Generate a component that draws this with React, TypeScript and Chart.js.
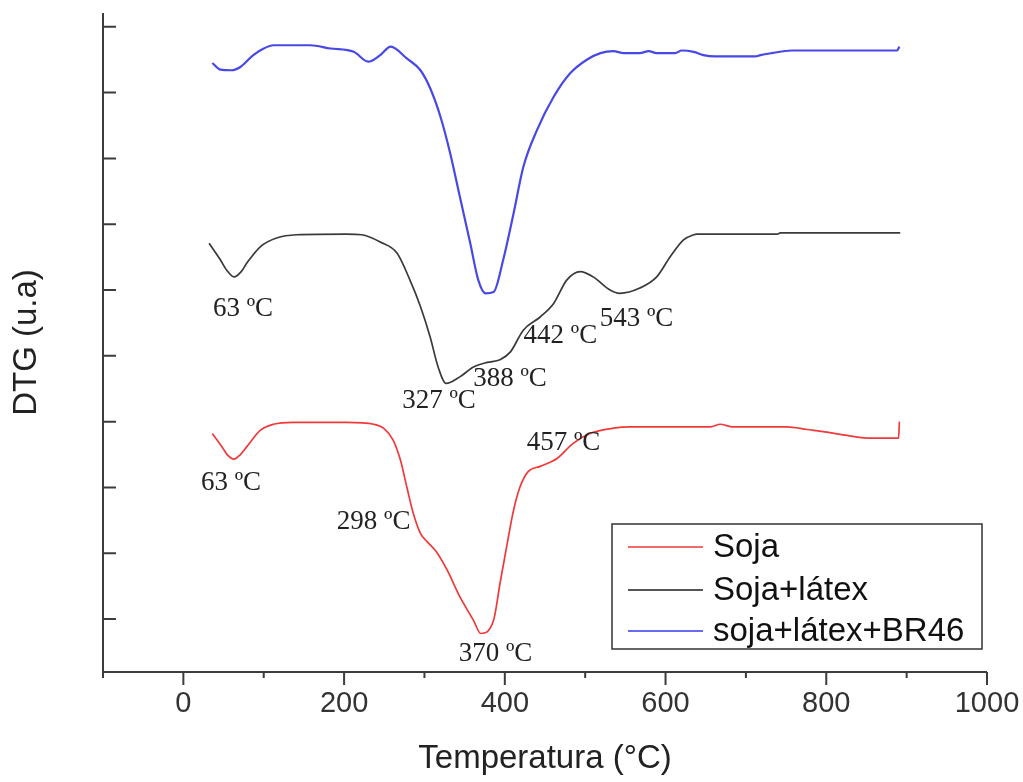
import React, { useEffect, useRef } from 'react';
import { Chart, registerables } from 'chart.js';

Chart.register(...registerables);

// Soja
const sojaTemp = [36, 49, 55, 63, 71, 79, 96, 112, 137, 203, 237, 249, 261, 270, 278, 286, 295, 303, 315, 328, 344, 361, 370, 386, 394, 403, 411, 419, 429, 444, 465, 485, 506, 535, 556, 656, 668, 684, 751, 776, 801, 826, 851, 890, 891];
const sojaDtg = [2.82, 2.6, 2.49, 2.43, 2.5, 2.62, 2.87, 2.96, 2.99, 2.99, 2.96, 2.9, 2.72, 2.42, 2.01, 1.61, 1.3, 1.18, 1.02, 0.75, 0.34, -0.02, -0.22, -0.02, 0.54, 1.15, 1.66, 2.01, 2.24, 2.32, 2.44, 2.67, 2.82, 2.9, 2.92, 2.92, 2.96, 2.92, 2.92, 2.88, 2.84, 2.79, 2.75, 2.75, 3.0];

// Soja+látex
const latexTemp = [32, 46, 54, 63, 72, 79, 96, 116, 141, 203, 222, 245, 266, 282, 295, 307, 317, 327, 344, 361, 378, 394, 407, 423, 444, 461, 477, 494, 510, 531, 543, 568, 589, 606, 622, 635, 639, 739, 743, 892];
const latexDtg = [5.71, 5.46, 5.3, 5.2, 5.28, 5.41, 5.66, 5.79, 5.84, 5.85, 5.84, 5.73, 5.56, 5.15, 4.75, 4.29, 3.83, 3.58, 3.68, 3.83, 3.9, 3.94, 4.06, 4.39, 4.59, 4.8, 5.15, 5.28, 5.2, 5.0, 4.95, 5.03, 5.2, 5.51, 5.76, 5.84, 5.85, 5.85, 5.87, 5.87];

// soja+látex+BR46
const br46Temp = [36, 46, 60, 71, 87, 100, 112, 158, 183, 212, 230, 245, 258, 278, 295, 307, 320, 332, 344, 357, 367, 376, 386, 398, 411, 423, 440, 461, 481, 502, 519, 535, 548, 568, 579, 589, 612, 620, 635, 647, 662, 712, 718, 732, 757, 888, 891];
const br46Dtg = [8.45, 8.35, 8.34, 8.39, 8.57, 8.67, 8.72, 8.72, 8.67, 8.62, 8.47, 8.57, 8.7, 8.52, 8.34, 8.07, 7.63, 7.08, 6.42, 5.71, 5.15, 4.95, 4.97, 5.46, 6.17, 6.87, 7.43, 7.94, 8.29, 8.5, 8.6, 8.63, 8.6, 8.6, 8.63, 8.6, 8.6, 8.64, 8.62, 8.57, 8.55, 8.55, 8.57, 8.6, 8.64, 8.64, 8.7];

// Peak temperatures marked on the curves (°C)
const sojaPeaks = [63, 298, 370, 457];
const latexPeaks = [63, 327, 388, 442, 543];

const seriesLabels = ['Soja', 'Soja+látex', 'soja+látex+BR46'];

const xTickValues = [0, 200, 400, 600, 800, 1000];
const xMinorTickValues = [-100, 100, 300, 500, 700, 900];
const yTickValues = [0, 1, 2, 3, 4, 5, 6, 7, 8, 9];

// Styling
const seriesColors = ['#f03a3a', '#3a3a3a', '#4848e4'];
const legendColors = ['#f26a6a', '#555555', '#6a6af0'];
const seriesWidths = [1.7, 1.7, 2.2];
const axisColor = '#3c3c3c';
const sans = '"Liberation Sans", Arial, sans-serif';
const serif = '"Liberation Serif", "Times New Roman", serif';

// Label offsets in pixels from the curve point at each peak temperature
const sojaPeakOffsets = [[-33, 31], [-86, -7], [-22, 27], [-24, -11]];
const latexPeakOffsets = [[-21, 39], [-44, 25], [-22, 25], [-15, 25], [-20, 33]];

function toPoints(xs: number[], ys: number[]) {
  return xs.map((x, i) => ({ x, y: ys[i] }));
}

function valueAt(xs: number[], ys: number[], t: number) {
  for (let i = 0; i < xs.length - 1; i++) {
    if (t >= xs[i] && t <= xs[i + 1]) {
      const f = xs[i + 1] === xs[i] ? 0 : (t - xs[i]) / (xs[i + 1] - xs[i]);
      return ys[i] + f * (ys[i + 1] - ys[i]);
    }
  }
  return ys[ys.length - 1];
}

const axesPlugin = {
  id: 'dtgAxes',
  afterDraw(chart: any) {
    const { ctx, chartArea, scales } = chart;
    const xs = scales.x;
    const ys = scales.y;
    ctx.save();
    ctx.strokeStyle = axisColor;
    ctx.lineWidth = 2;
    ctx.beginPath();
    ctx.moveTo(chartArea.left, chartArea.top);
    ctx.lineTo(chartArea.left, chartArea.bottom);
    ctx.lineTo(chartArea.right, chartArea.bottom);
    ctx.stroke();
    ctx.beginPath();
    for (const v of yTickValues) {
      const y = ys.getPixelForValue(v);
      ctx.moveTo(chartArea.left, y);
      ctx.lineTo(chartArea.left + 13, y);
    }
    for (const v of xTickValues) {
      const x = xs.getPixelForValue(v);
      ctx.moveTo(x, chartArea.bottom);
      ctx.lineTo(x, chartArea.bottom + 13);
    }
    for (const v of xMinorTickValues) {
      const x = xs.getPixelForValue(v);
      ctx.moveTo(x, chartArea.bottom);
      ctx.lineTo(x, chartArea.bottom + 6);
    }
    ctx.stroke();
    ctx.restore();
  },
};

const peakLabelPlugin = {
  id: 'peakLabels',
  afterDatasetsDraw(chart: any) {
    const { ctx, scales } = chart;
    const draw = (temps: number[], vals: number[], peaks: number[], offs: number[][]) => {
      peaks.forEach((t, i) => {
        const px = scales.x.getPixelForValue(t);
        const py = scales.y.getPixelForValue(valueAt(temps, vals, t));
        ctx.fillText(`${t} ºC`, px + offs[i][0], py + offs[i][1]);
      });
    };
    ctx.save();
    ctx.font = `27px ${serif}`;
    ctx.fillStyle = '#222';
    ctx.textAlign = 'left';
    ctx.textBaseline = 'alphabetic';
    draw(sojaTemp, sojaDtg, sojaPeaks, sojaPeakOffsets);
    draw(latexTemp, latexDtg, latexPeaks, latexPeakOffsets);
    ctx.restore();
  },
};

const boxLegendPlugin = {
  id: 'boxLegend',
  afterDraw(chart: any) {
    const { ctx, chartArea } = chart;
    const w = 370;
    const h = 125;
    const x0 = chartArea.right - 5 - w;
    const y0 = chartArea.bottom - 23 - h;
    ctx.save();
    ctx.fillStyle = '#fff';
    ctx.fillRect(x0, y0, w, h);
    ctx.strokeStyle = '#333';
    ctx.lineWidth = 1.5;
    ctx.strokeRect(x0, y0, w, h);
    ctx.font = `33px ${sans}`;
    ctx.textBaseline = 'middle';
    ctx.textAlign = 'left';
    const rows = [23, 66, 107];
    seriesLabels.forEach((label, i) => {
      const y = y0 + rows[i];
      ctx.strokeStyle = legendColors[i];
      ctx.lineWidth = 2;
      ctx.beginPath();
      ctx.moveTo(x0 + 16, y);
      ctx.lineTo(x0 + 91, y);
      ctx.stroke();
      ctx.fillStyle = '#111';
      ctx.fillText(label, x0 + 101, y + 1);
    });
    ctx.restore();
  },
};

export default function App() {
  const canvasRef = useRef<HTMLCanvasElement | null>(null);

  useEffect(() => {
    if (!canvasRef.current) return;
    const series = [
      toPoints(sojaTemp, sojaDtg),
      toPoints(latexTemp, latexDtg),
      toPoints(br46Temp, br46Dtg),
    ];
    const chart = new Chart(canvasRef.current, {
      type: 'line',
      data: {
        datasets: series.map((data, i) => ({
          label: seriesLabels[i],
          data,
          borderColor: seriesColors[i],
          borderWidth: seriesWidths[i],
          pointRadius: 0,
          fill: false,
          cubicInterpolationMode: 'monotone' as const,
        })),
      },
      options: {
        responsive: false,
        animation: false,
        devicePixelRatio: 1,
        layout: { padding: { top: 13, right: 36, left: 0, bottom: 0 } },
        plugins: {
          legend: { display: false },
          tooltip: { enabled: false },
          title: { display: false },
        },
        scales: {
          x: {
            type: 'linear',
            min: -100,
            max: 1000,
            grid: { display: false, drawTicks: false },
            border: { display: false },
            afterBuildTicks: (s: any) => {
              s.ticks = xTickValues.map((v) => ({ value: v }));
            },
            afterFit: (s: any) => {
              s.height = 110;
              s.paddingLeft = 0;
              s.paddingRight = 0;
            },
            ticks: {
              padding: 15,
              color: '#333',
              autoSkip: false,
              maxRotation: 0,
              font: { family: sans, size: 29 },
              callback: (v: any) => String(v),
            },
            title: {
              display: true,
              text: 'Temperatura (°C)',
              color: '#222',
              font: { family: sans, size: 33 },
              padding: { top: 0, bottom: 3 },
            },
          },
          y: {
            type: 'linear',
            min: -0.805,
            max: 9.21,
            grid: { display: false, drawTicks: false },
            border: { display: false },
            ticks: { display: false },
            afterFit: (s: any) => {
              s.width = 103;
            },
            title: {
              display: true,
              text: 'DTG (u.a)',
              color: '#222',
              font: { family: sans, size: 33 },
              padding: { top: 7, bottom: 0 },
            },
          },
        },
      },
      plugins: [axesPlugin, peakLabelPlugin, boxLegendPlugin],
    } as any);
    return () => chart.destroy();
  }, []);

  return (
    <div style={{ position: 'absolute', left: 0, top: 0, width: 1023, height: 782, background: '#fff' }}>
      <canvas ref={canvasRef} width={1023} height={782} style={{ display: 'block' }} />
    </div>
  );
}
